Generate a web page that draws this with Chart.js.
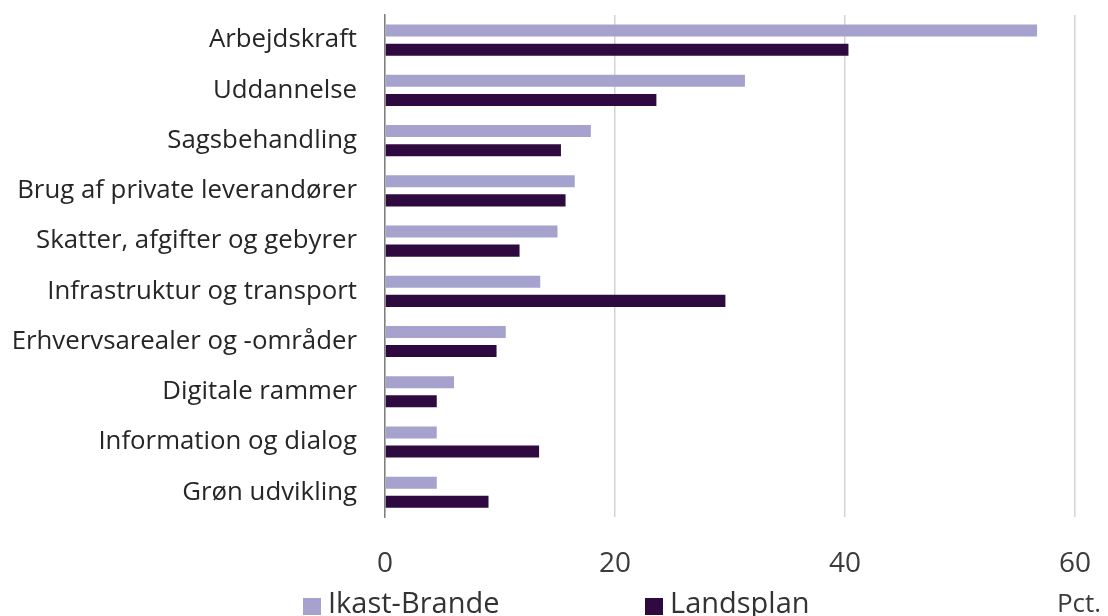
<!DOCTYPE html>
<html>
<head>
<meta charset="utf-8">
<script src="https://cdn.jsdelivr.net/npm/chart.js@4/dist/chart.umd.min.js"></script>
<style>
  html, body { margin: 0; padding: 0; background: #fff; }
  #wrap { width: 1108px; height: 616px; position: relative; }
</style>
</head>
<body>
<div id="wrap"><canvas id="chart"></canvas></div>
<script>
const categories = [
  'Arbejdskraft',
  'Uddannelse',
  'Sagsbehandling',
  'Brug af private leverandører',
  'Skatter, afgifter og gebyrer',
  'Infrastruktur og transport',
  'Erhvervsarealer og -områder',
  'Digitale rammer',
  'Information og dialog',
  'Grøn udvikling'
];
const ikastBrande = [56.7, 31.3, 17.9, 16.5, 15.0, 13.5, 10.5, 6.0, 4.5, 4.5];
const landsplan = [40.3, 23.6, 15.3, 15.7, 11.7, 29.6, 9.7, 4.5, 13.4, 9.0];
const xTicks = [0, 20, 40, 60];
const unitLabel = 'Pct.';

const FONT = '"Open Sans", "DejaVu Sans", sans-serif';

// legend + unit label drawn under the axis
const bottomTexts = {
  id: 'bottomTexts',
  afterDraw(chart) {
    const ctx = chart.ctx;
    const x = chart.scales.x;
    ctx.save();
    ctx.textBaseline = 'alphabetic';

    ctx.font = '26px ' + FONT;
    ctx.fillStyle = '#3b3b3b';
    ctx.textAlign = 'center';
    ctx.fillText(unitLabel, x.getPixelForValue(xTicks[xTicks.length - 1]) + 4, 612);

    const items = [{ ds: chart.data.datasets[0], left: 303 }, { ds: chart.data.datasets[1], left: 645 }];
    ctx.font = '29px ' + FONT;
    ctx.textAlign = 'left';
    items.forEach(it => {
      ctx.fillStyle = it.ds.backgroundColor;
      ctx.fillRect(it.left, 598, 18, 17);
      ctx.fillStyle = '#333';
      ctx.fillText(it.ds.label, it.left + 25, 613);
    });
    ctx.restore();
  }
};

new Chart(document.getElementById('chart'), {
  type: 'bar',
  data: {
    labels: categories,
    datasets: [
      { label: 'Ikast-Brande', data: ikastBrande, backgroundColor: '#a5a2cd', categoryPercentage: 0.76, barPercentage: 0.63 },
      { label: 'Landsplan', data: landsplan, backgroundColor: '#2f0a40', categoryPercentage: 0.76, barPercentage: 0.63 }
    ]
  },
  options: {
    indexAxis: 'y',
    responsive: true,
    maintainAspectRatio: false,
    animation: false,
    layout: { padding: { top: 15, right: 33, bottom: 5, left: 0 } },
    plugins: { legend: { display: false }, tooltip: { enabled: false } },
    scales: {
      x: {
        min: 0,
        max: 60,
        afterBuildTicks(scale) { scale.ticks = xTicks.map(v => ({ value: v })); },
        afterFit(scale) { scale.paddingLeft = 0; scale.paddingRight = 0; },
        grid: { color: '#d4d4d4', lineWidth: 1.5, drawTicks: false },
        border: { display: false },
        ticks: { padding: 30, color: '#3b3b3b', font: { family: FONT, size: 28 } }
      },
      y: {
        afterFit(scale) { scale.width = 385; scale.paddingTop = 0; scale.paddingBottom = 0; },
        grid: { display: false, drawTicks: false },
        border: { display: true, color: '#808080', width: 1.5 },
        ticks: { padding: 28, color: '#262626', font: { family: FONT, size: 25.8 } }
      }
    }
  },
  plugins: [bottomTexts]
});
</script>
</body>
</html>
